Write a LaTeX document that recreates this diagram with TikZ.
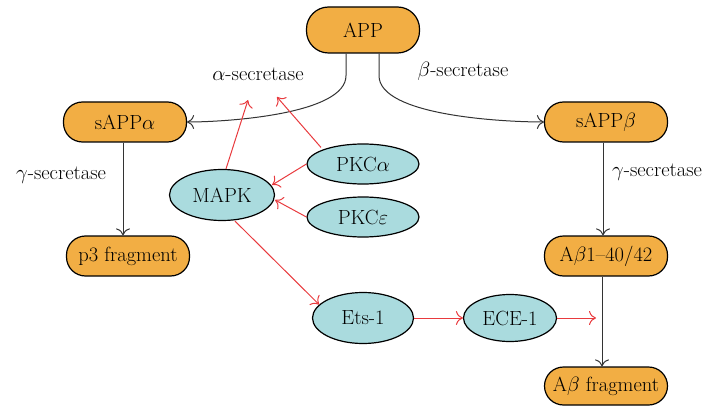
\documentclass[tikz,border=0pt]{standalone}
\usetikzlibrary{shapes.geometric,arrows.meta}
\definecolor{boxorange}{RGB}{242,174,68}
\definecolor{cellteal}{RGB}{170,219,222}
\definecolor{sigred}{RGB}{232,58,62}
\begin{document}
\begin{tikzpicture}[x=1pt,y=-1pt,font=\fontsize{20.5}{24}\selectfont,
  prot/.style={draw=black,line width=1.2pt,fill=boxorange,rounded corners=19pt,
    minimum width=123pt,minimum height=40pt,inner sep=0pt},
  enz/.style={ellipse,draw=black,line width=1.2pt,fill=cellteal,
    minimum width=112pt,minimum height=40pt,inner sep=0pt},
  blk/.style={draw=black!80,line width=1pt,-{To[length=7pt,width=14pt]}},
  redarr/.style={draw=sigred,line width=1pt,-{To[length=7pt,width=14pt]}},
  lbl/.style={inner sep=0pt}]
\useasboundingbox (0,0) rectangle (708,406);
% proteins
\node[prot,minimum width=113pt,minimum height=46pt,rounded corners=22pt] (app) at (363,30) {APP};
\node[prot] (sa) at (125,122) {sAPP$\alpha$};
\node[prot] (p3) at (128,256) {p3 fragment};
\node[prot] (sb) at (606,122) {sAPP$\beta$};
\node[prot] (ab) at (606,256) {A$\beta$1--40/42};
\node[prot,minimum height=38pt] (abf) at (606,386) {A$\beta$ fragment};
% enzymes
\node[enz,minimum width=105pt,minimum height=51pt] (mapk) at (222,195) {MAPK};
\node[enz] (pkca) at (363,164) {PKC$\alpha$};
\node[enz] (pkce) at (363,217) {PKC$\varepsilon$};
\node[enz,minimum width=101pt,minimum height=51pt] (ets) at (363,318) {Ets-1};
\node[enz,minimum width=93pt,minimum height=47pt] (ece) at (510,318) {ECE-1};
% labels
\node[lbl] (alab) at (258,74) {$\alpha$-secretase};
\node[lbl] (blab) at (463,71) {$\beta$-secretase};
\node[lbl,anchor=west] (g1) at (16,175) {$\gamma$-secretase};
\node[lbl,anchor=west] (g2) at (612,172) {$\gamma$-secretase};
% coordinates
\coordinate (ta) at (248,100);
\coordinate (tb) at (277,97);
\coordinate (te) at (596,318);
% black arrows
\draw[blk] ([xshift=-17pt]app.south) -- ++(0,22) to[out=-90,in=0,looseness=0.6] (sa.east);
\draw[blk] ([xshift=16pt]app.south) -- ++(0,22) to[out=-90,in=180,looseness=0.6] (sb.west);
\draw[blk] ([xshift=-2pt]sa.south) -- ([xshift=-5pt]p3.north);
\draw[blk] ([xshift=-3pt]sb.south) -- ([xshift=-3pt]ab.north);
\draw[blk] ([xshift=-4pt]ab.south) -- ([xshift=-4pt]abf.north);
% red arrows
\draw[redarr] (mapk.north) ++(4,0) -- (ta);
\draw[redarr] (pkca.north west) ++(-2,-2) -- (tb);
\draw[redarr] (pkca.west) -- ([xshift=-3pt,yshift=10pt]mapk.east);
\draw[redarr] (pkce.west) -- ([yshift=-5pt]mapk.east);
\draw[redarr] (mapk.south) ++(13,0) -- (ets.163);
\draw[redarr] (ets.east) -- (ece.west);
\draw[redarr] (ece.east) -- (te);
\end{tikzpicture}
\end{document}
